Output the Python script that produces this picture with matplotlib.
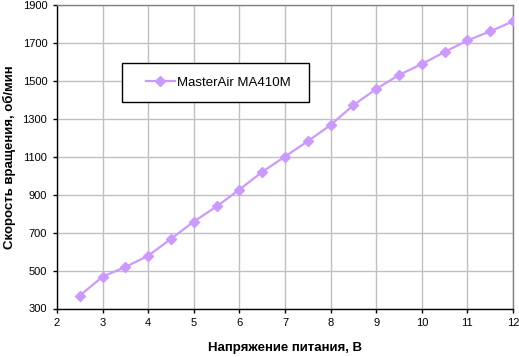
import matplotlib
matplotlib.use('Agg')
import matplotlib.pyplot as plt
import matplotlib.patches as patches

# fan speed vs voltage
volts = [2.5, 3, 3.5, 4, 4.5, 5, 5.5, 6, 6.5, 7, 7.5, 8, 8.5, 9, 9.5, 10, 10.5, 11, 11.5, 12]
rpm = [368, 468, 519, 578, 667, 758, 838, 927, 1020, 1101, 1182, 1267, 1372, 1457, 1531, 1589, 1652, 1713, 1761, 1814]
series_name = 'MasterAir MA410M'
x_ticks = list(range(2, 13))
y_ticks = list(range(300, 2000, 200))

plt.rcParams['font.family'] = ['Liberation Sans', 'DejaVu Sans']

fig = plt.figure(figsize=(5.19, 3.57), dpi=100)
ax = fig.add_axes([57 / 519, 1 - 308.5 / 357, 456 / 519, 303.5 / 357])

ax.plot(volts, rpm, color='#CC99FF', linewidth=1.6, marker='D', markersize=5.5,
        markeredgecolor='#CC99FF', label=series_name, zorder=3)

ax.set_xlim(2, 12)
ax.set_ylim(300, 1900)
ax.set_xticks(x_ticks)
ax.set_yticks(y_ticks)
ax.grid(True, color='#C0C0C0', linewidth=1)
ax.set_axisbelow(True)

for side in ('top', 'right'):
    ax.spines[side].set_color('#808080')
    ax.spines[side].set_linewidth(1)
for side in ('left', 'bottom'):
    ax.spines[side].set_color('black')
    ax.spines[side].set_linewidth(1)

ax.tick_params(axis='both', direction='out', length=3, width=1, labelsize=8, pad=4)

ax.set_xlabel('Напряжение питания, В', fontsize=9.5, fontweight='bold', labelpad=10)
ax.set_ylabel('Скорость вращения, об/мин', fontsize=9.5, fontweight='bold', labelpad=5)

# legend box drawn separately so padding matches
box = patches.Rectangle((0.143, 0.680), 0.409, 0.129, transform=ax.transAxes,
                        facecolor='white', edgecolor='black', linewidth=1, zorder=4)
ax.add_patch(box)
leg = ax.legend(loc='center left', bbox_to_anchor=(0.195, 0.745), fontsize=9.5,
                frameon=False, borderpad=0, handlelength=2.2, handletextpad=0.15,
                borderaxespad=0)
leg.set_zorder(5)

fig.savefig('out.png', dpi=100)
